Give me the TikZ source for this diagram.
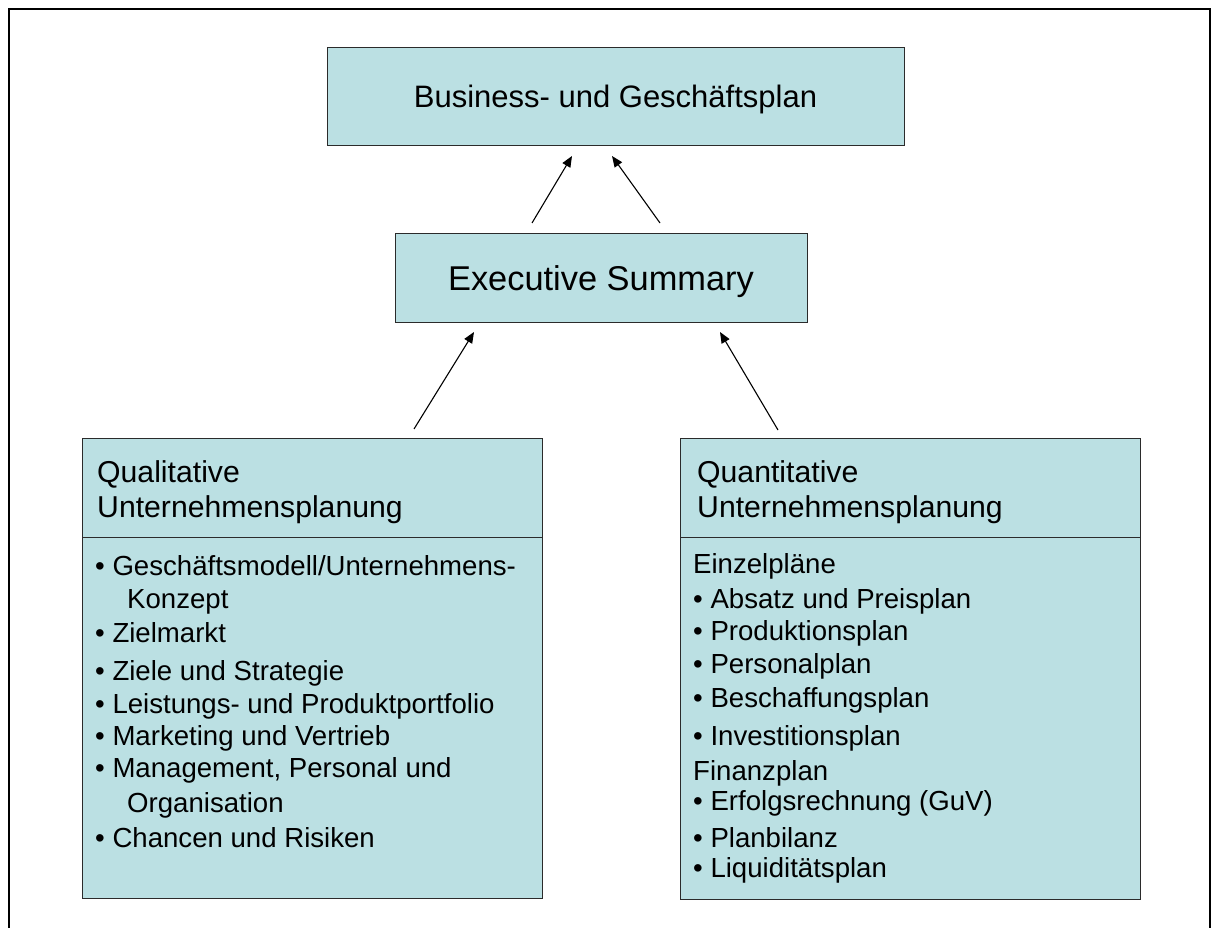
\documentclass[tikz,border=0pt]{standalone}
\usepackage{fontspec}
\setmainfont{Liberation Sans}
\usetikzlibrary{arrows.meta}
\definecolor{boxfill}{HTML}{BBE0E3}
\definecolor{boxline}{HTML}{2B2B2B}
\begin{document}
\begin{tikzpicture}[x=1pt,y=-1pt,
  box/.style={draw=boxline, fill=boxfill, line width=1.1pt, anchor=north west, inner sep=0pt},
  txt/.style={anchor=base west, inner sep=0pt, font=\fontsize{27.6}{33}\selectfont},
  head/.style={anchor=base west, inner sep=0pt, font=\fontsize{30.2}{35}\selectfont},
  arr/.style={-{Triangle[length=11pt,width=9pt]}, line width=1.1pt}]
\useasboundingbox (0,0) rectangle (1215,928);
\draw[line width=2.4pt] (9,945) -- (9,9) -- (1210,9) -- (1210,945);

% boxes
\node[box, minimum width=577pt, minimum height=98pt] (top) at (327,47) {};
\node[box, minimum width=412pt, minimum height=89pt] (exec) at (395,233) {};
\node[box, minimum width=460pt, minimum height=99pt] (qhead) at (82,438) {};
\node[box, minimum width=460pt, minimum height=361pt] (qbody) at (82,537) {};
\node[box, minimum width=460pt, minimum height=99pt] (nhead) at (680,438) {};
\node[box, minimum width=460pt, minimum height=362pt] (nbody) at (680,537) {};

% titles
\node[anchor=base, inner sep=0pt, font=\fontsize{31}{36}\selectfont] (toptxt) at (615.5,108) {Business- und Geschäftsplan};
\node[anchor=base, inner sep=0pt, font=\fontsize{34.4}{40}\selectfont] (exectxt) at (601,290) {Executive Summary};

% left box
\node[head] (qh1) at (97,482) {Qualitative};
\node[head] (qh2) at (97,517) {Unternehmensplanung};
\node[txt] (q1) at (95,575) {• Geschäftsmodell/Unternehmens-};
\node[txt] (q1b) at (127,608) {Konzept};
\node[txt] (q2) at (95,642) {• Zielmarkt};
\node[txt] (q3) at (95,680) {• Ziele und Strategie};
\node[txt] (q4) at (95,713) {• Leistungs- und Produktportfolio};
\node[txt] (q5) at (95,745) {• Marketing und Vertrieb};
\node[txt] (q6) at (95,777) {• Management, Personal und};
\node[txt] (q6b) at (127,812) {Organisation};
\node[txt] (q7) at (95,847) {• Chancen und Risiken};

% right box
\node[head] (nh1) at (697,482) {Quantitative};
\node[head] (nh2) at (697,517) {Unternehmensplanung};
\node[txt] (n0) at (693,573) {Einzelpläne};
\node[txt] (n1) at (693,608) {• Absatz und Preisplan};
\node[txt] (n2) at (693,640) {• Produktionsplan};
\node[txt] (n3) at (693,673) {• Personalplan};
\node[txt] (n4) at (693,707) {• Beschaffungsplan};
\node[txt] (n5) at (693,745) {• Investitionsplan};
\node[txt] (n6) at (693,780) {Finanzplan};
\node[txt] (n7) at (693,810) {• Erfolgsrechnung (GuV)};
\node[txt] (n8) at (693,847) {• Planbilanz};
\node[txt] (n9) at (693,877) {• Liquiditätsplan};

% arrows
\coordinate (a1s) at (532,223); \coordinate (a1e) at (572,156);
\coordinate (a2s) at (660,223); \coordinate (a2e) at (612,156);
\coordinate (a3s) at (414,429); \coordinate (a3e) at (474,332);
\coordinate (a4s) at (778,430); \coordinate (a4e) at (720,332);
\draw[arr] (a1s) -- (a1e);
\draw[arr] (a2s) -- (a2e);
\draw[arr] (a3s) -- (a3e);
\draw[arr] (a4s) -- (a4e);
\end{tikzpicture}
\end{document}
